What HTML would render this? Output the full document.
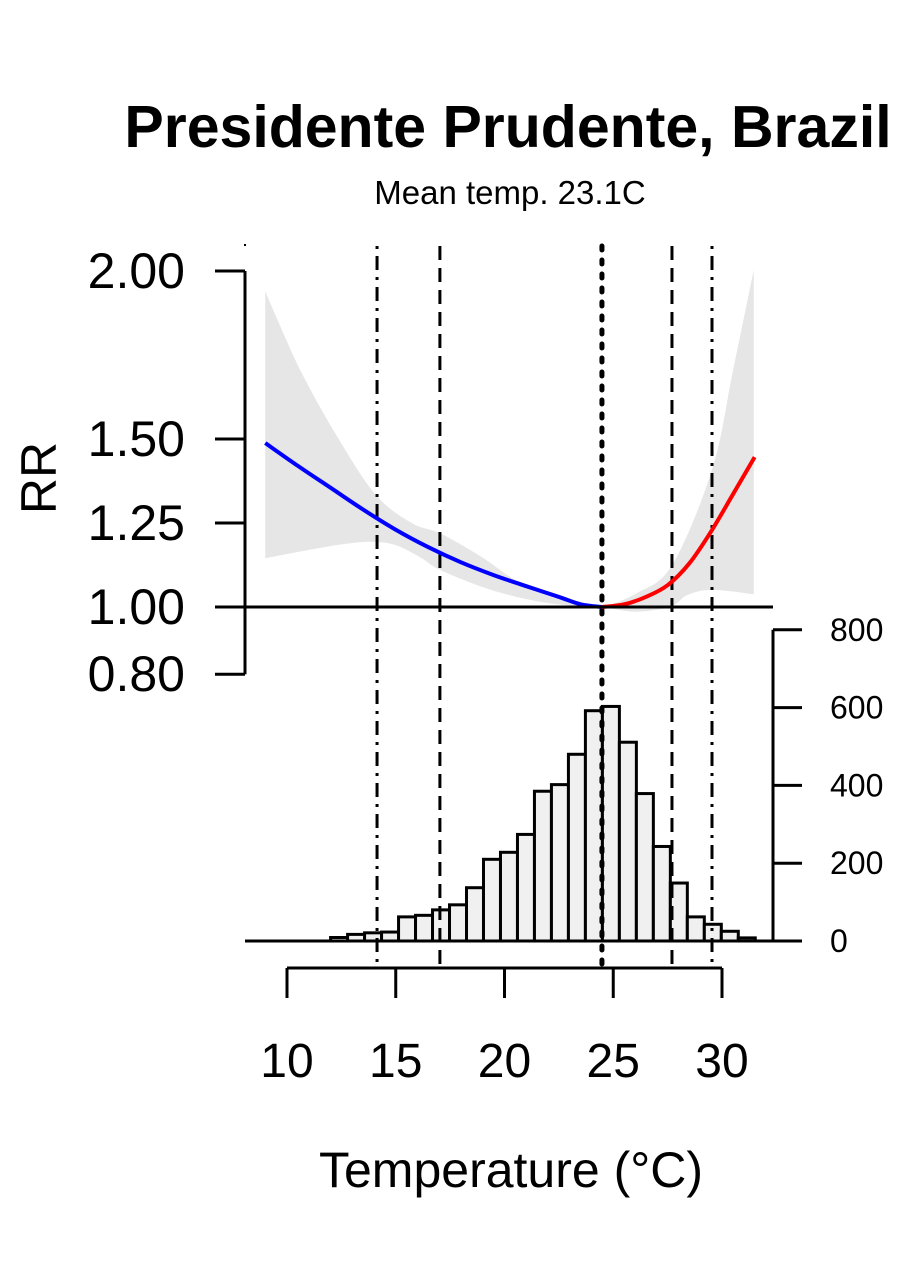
<!DOCTYPE html>
<html><head><meta charset="utf-8">
<style>
body{margin:0;background:#fff;}
svg{display:block;font-family:"Liberation Sans",Arial,sans-serif;}
</style></head>
<body>
<svg id="chart" width="900" height="1275" viewBox="0 0 900 1275" xmlns="http://www.w3.org/2000/svg">
<text x="508" y="147" text-anchor="middle" font-size="59" font-weight="bold">Presidente Prudente, Brazil</text>
<text x="510" y="204" text-anchor="middle" font-size="33">Mean temp. 23.1C</text>
<text transform="translate(56,478) rotate(-90)" text-anchor="middle" font-size="50">RR</text>
<text x="511" y="1187" text-anchor="middle" font-size="50">Temperature (°C)</text>
<rect x="244" y="244" width="2" height="2" fill="#000"/>
<g id="band"></g>
<g id="hist"></g>
<g id="vlines"></g>
<g id="curve"></g>
<g id="axes"></g>
</svg>
<script>
const rrTicks=[2.00,1.50,1.25,1.00,0.80];
const rrTickLabels=["2.00","1.50","1.25","1.00","0.80"];
const tempTicks=[10,15,20,25,30];
const countTicks=[0,200,400,600,800];
const histBreakStart=8.1;
const histBinWidth=0.781;
const histCounts=[0,0,0,0,0,9,17,21,23,62,66,80,93,137,210,228,274,385,402,480,592,603,511,379,243,149,62,43,25,8];
const coldT=[9,10.5,12,13.5,15,16.5,18,19.5,21,22.5,23.5,24.48];
const coldRR=[1.488,1.42,1.355,1.29,1.23,1.178,1.133,1.095,1.062,1.03,1.008,1.0];
const heatT=[24.48,25.5,26.5,27.5,28.5,29.5,30.5,31.5];
const heatRR=[1.0,1.008,1.03,1.065,1.13,1.225,1.335,1.446];
const upperT=[9,10.69,12.59,14.16,15.76,17.05,18.92,20.5,22.09,23.67,24.46,26.05,27.71,29.55,30.48,31.46];
const upperRR=[1.939,1.695,1.477,1.328,1.249,1.219,1.15,1.08,1.031,1.006,1.0,1.04,1.125,1.41,1.695,2.003];
const lowerT=[9,11.01,12.59,13.86,14.96,16.07,17.05,18.92,20.5,22.09,23.67,24.46,26.05,27.63,28.42,29.55,31.46];
const lowerRR=[1.145,1.17,1.187,1.194,1.185,1.15,1.11,1.061,1.031,1.011,1.001,1.0,0.986,1.001,1.036,1.051,1.038];
const vlineT=[14.14,17.03,24.48,27.7,29.54];
const vlineStyle=["dotdash","dash","dot","dash","dotdash"];

const NS="http://www.w3.org/2000/svg";
const X=t=>287+(t-10)*21.75;
const Y=r=>607-(r-1)*336;
const H=c=>941-c*0.389;
function mk(tag,attrs,parent){const e=document.createElementNS(NS,tag);for(const k in attrs)e.setAttribute(k,attrs[k]);parent.appendChild(e);return e;}
function smooth(pts){let d="M"+pts[0][0]+","+pts[0][1];for(let i=0;i<pts.length-1;i++){const p0=pts[Math.max(i-1,0)],p1=pts[i],p2=pts[i+1],p3=pts[Math.min(i+2,pts.length-1)];const c1=[p1[0]+(p2[0]-p0[0])/6,p1[1]+(p2[1]-p0[1])/6],c2=[p2[0]-(p3[0]-p1[0])/6,p2[1]-(p3[1]-p1[1])/6];d+=" C"+c1+" "+c2+" "+p2;}return d;}

const up=upperT.map((t,i)=>[X(t),Y(upperRR[i])]);
const lo=lowerT.map((t,i)=>[X(t),Y(lowerRR[i])]).reverse();
const bandPath=smooth(up)+" L"+lo[0]+" "+smooth(lo).slice(1)+" Z";
const band=mk("path",{d:bandPath,fill:"#e6e6e6",stroke:"none"},document.getElementById("band"));



const hg=document.getElementById("hist");
histCounts.forEach((c,i)=>{
  const x0=X(histBreakStart+i*histBinWidth),x1=X(histBreakStart+(i+1)*histBinWidth);
  const r=mk("rect",{x:x0,y:H(c),width:x1-x0,height:941-H(c),fill:"#f0f0f0",stroke:"#000","stroke-width":3},hg);
  
  
});

const vg=document.getElementById("vlines");
const dashes={dotdash:"3,7,14,7",dash:"14,8",dot:"4,10"};
vlineT.forEach((t,i)=>{
  const st=vlineStyle[i];
  const l=mk("line",{x1:X(t),x2:X(t),y1:246,y2:968,stroke:"#000","stroke-width":st==="dot"?5:3,"stroke-dasharray":dashes[st],"stroke-linecap":st==="dot"?"round":"butt"},vg);
  
  
});

const cg=document.getElementById("curve");
const cold=mk("path",{d:smooth(coldT.map((t,i)=>[X(t),Y(coldRR[i])])),fill:"none",stroke:"#0000ff","stroke-width":4},cg);


const heat=mk("path",{d:smooth(heatT.map((t,i)=>[X(t),Y(heatRR[i])])),fill:"none",stroke:"#ff0000","stroke-width":4},cg);



const ag=document.getElementById("axes");
const ref=mk("line",{x1:245,x2:773,y1:Y(1),y2:Y(1),stroke:"#000","stroke-width":3},ag);


const ly=mk("line",{x1:245,x2:245,y1:Y(2),y2:Y(0.8),stroke:"#000","stroke-width":3},ag);


rrTicks.forEach((v,i)=>{
  mk("line",{x1:215,x2:245,y1:Y(v),y2:Y(v),stroke:"#000","stroke-width":3},ag);
  const t=mk("text",{x:185,y:Y(v)+17,"text-anchor":"end","font-size":50},ag);
  t.textContent=rrTickLabels[i];
  
  
});
const bx=mk("line",{x1:245,x2:800,y1:941,y2:941,stroke:"#000","stroke-width":3},ag);


const ry=mk("line",{x1:773,x2:773,y1:H(800),y2:H(0),stroke:"#000","stroke-width":3},ag);


countTicks.forEach(v=>{
  mk("line",{x1:773,x2:802,y1:H(v),y2:H(v),stroke:"#000","stroke-width":3},ag);
  const t=mk("text",{x:830,y:H(v)+11,"text-anchor":"start","font-size":32},ag);
  t.textContent=String(v);
  
  
});
const xl=mk("line",{x1:X(10),x2:X(30),y1:968,y2:968,stroke:"#000","stroke-width":3},ag);


tempTicks.forEach(v=>{
  mk("line",{x1:X(v),x2:X(v),y1:968,y2:998,stroke:"#000","stroke-width":3},ag);
  const t=mk("text",{x:X(v),y:1077,"text-anchor":"middle","font-size":48},ag);
  t.textContent=String(v);
  
  
});
</script>
</body></html>
